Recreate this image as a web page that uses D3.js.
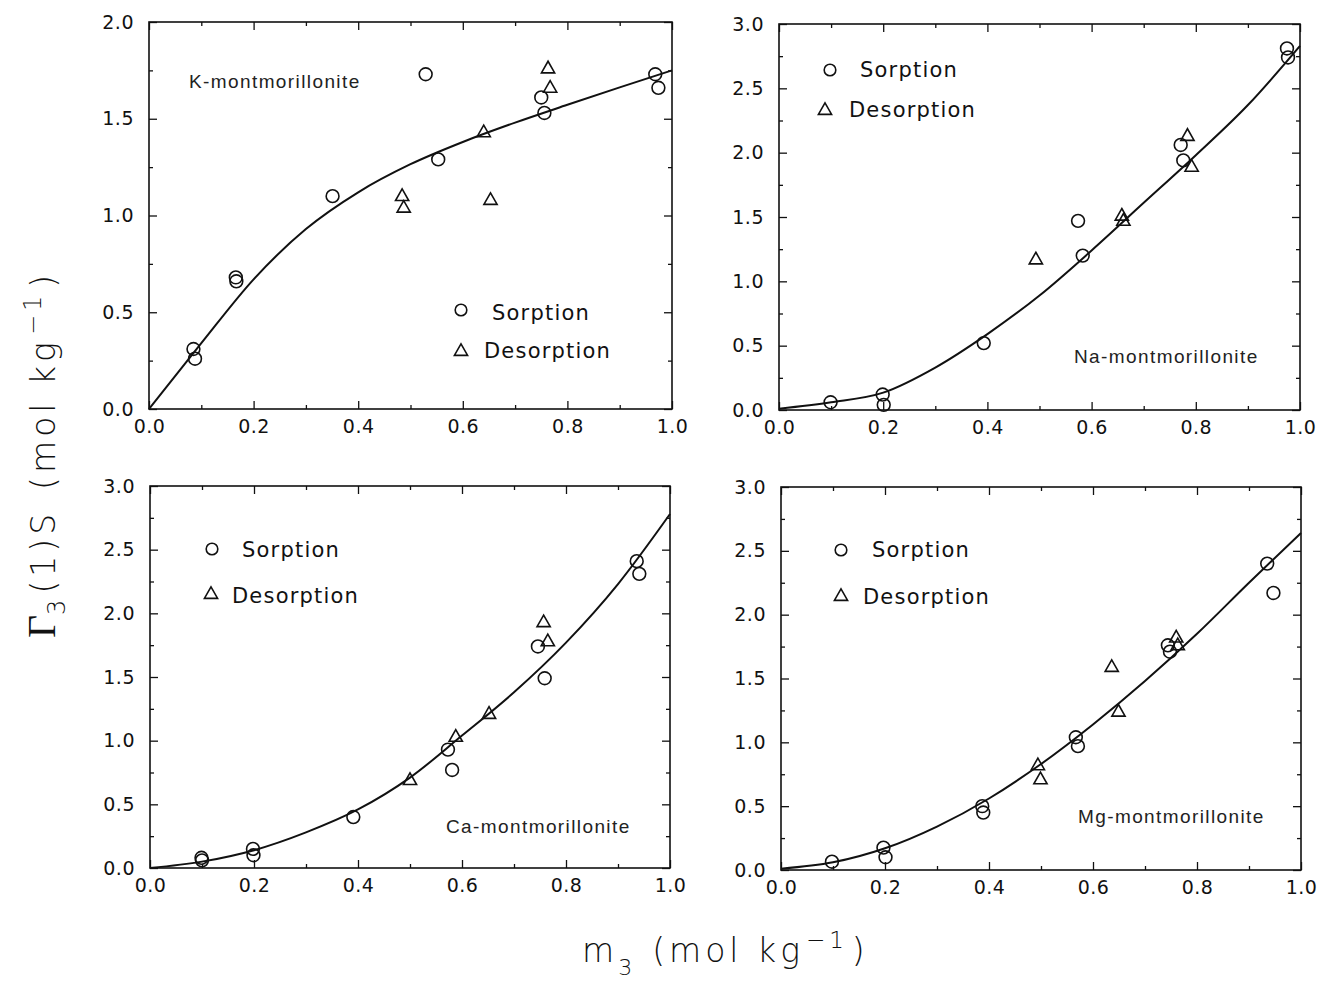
<!DOCTYPE html>
<html>
<head>
<meta charset="utf-8">
<script src="https://cdn.jsdelivr.net/npm/d3@7"></script>
<style>
  body { margin: 0; background: #fff; }
  svg { display: block; }
  .tick text { font-family: "DejaVu Sans", sans-serif; font-size: 19px; letter-spacing: 0.5px; fill: #111; }
  .tick line { stroke: #111; stroke-width: 1.3; }
  .legend { font-family: "DejaVu Sans", sans-serif; font-size: 21px; letter-spacing: 1.2px; fill: #111; }
  .clay { font-family: "Liberation Sans", Arial, sans-serif; font-size: 19px; letter-spacing: 1.4px; fill: #222; }
  .title { font-family: "DejaVu Sans", sans-serif; font-weight: 200; font-size: 33px; letter-spacing: 4px; fill: #111; }
</style>
</head>
<body>
<svg width="1317" height="981"></svg>
<script>
// values, [m3, Gamma] pairs
const kSorption = [[0.085, 0.31], [0.088, 0.26], [0.166, 0.68], [0.167, 0.66], [0.351, 1.10],
  [0.529, 1.73], [0.553, 1.29], [0.750, 1.61], [0.756, 1.53], [0.968, 1.73], [0.974, 1.66]];
const kDesorption = [[0.484, 1.10], [0.487, 1.04], [0.640, 1.43], [0.653, 1.08], [0.763, 1.76], [0.767, 1.66]];
const kFit = [[0, 0], [0.1, 0.34], [0.2, 0.67], [0.3, 0.93], [0.4, 1.12], [0.5, 1.265],
  [0.6, 1.38], [0.7, 1.48], [0.8, 1.572], [0.9, 1.662], [1.0, 1.75]];

const naSorption = [[0.099, 0.06], [0.199, 0.12], [0.201, 0.04], [0.393, 0.52], [0.574, 1.47],
  [0.583, 1.20], [0.771, 2.06], [0.776, 1.94], [0.975, 2.81], [0.977, 2.74]];
const naDesorption = [[0.493, 1.17], [0.658, 1.51], [0.661, 1.47], [0.784, 2.13], [0.792, 1.89]];
const naFit = [[0, 0.01], [0.1, 0.06], [0.2, 0.135], [0.3, 0.33], [0.4, 0.59], [0.5, 0.89],
  [0.6, 1.24], [0.7, 1.61], [0.8, 1.98], [0.9, 2.37], [1.0, 2.83]];

const caSorption = [[0.099, 0.08], [0.100, 0.06], [0.198, 0.15], [0.199, 0.10], [0.391, 0.40],
  [0.573, 0.93], [0.581, 0.77], [0.746, 1.74], [0.759, 1.49], [0.936, 2.41], [0.941, 2.31]];
const caDesorption = [[0.500, 0.69], [0.588, 1.03], [0.652, 1.21], [0.757, 1.93], [0.765, 1.78]];
const caFit = [[0, 0], [0.1, 0.05], [0.2, 0.14], [0.3, 0.28], [0.4, 0.46], [0.5, 0.71],
  [0.6, 1.04], [0.7, 1.38], [0.8, 1.77], [0.9, 2.23], [1.0, 2.78]];

const mgSorption = [[0.098, 0.065], [0.197, 0.175], [0.201, 0.10], [0.387, 0.50], [0.389, 0.45],
  [0.567, 1.04], [0.571, 0.97], [0.744, 1.76], [0.748, 1.71], [0.935, 2.40], [0.947, 2.17]];
const mgDesorption = [[0.494, 0.82], [0.499, 0.71], [0.636, 1.59], [0.649, 1.24], [0.760, 1.82], [0.763, 1.76]];
const mgFit = [[0, 0.01], [0.1, 0.06], [0.2, 0.17], [0.3, 0.34], [0.4, 0.56], [0.5, 0.83],
  [0.6, 1.14], [0.7, 1.48], [0.8, 1.85], [0.9, 2.25], [1.0, 2.64]];

const xTicks = [0, 0.2, 0.4, 0.6, 0.8, 1.0];
const xMinor = [0.1, 0.3, 0.5, 0.7, 0.9];
const yTicksK = [0, 0.5, 1.0, 1.5, 2.0];
const yMinorK = [0.25, 0.75, 1.25, 1.75];
const yTicks = [0, 0.5, 1.0, 1.5, 2.0, 2.5, 3.0];
const yMinor = [0.25, 0.75, 1.25, 1.75, 2.25, 2.75];

const clayNames = ["K-montmorillonite", "Na-montmorillonite", "Ca-montmorillonite", "Mg-montmorillonite"];
const legendNames = ["Sorption", "Desorption"];

// layout: frame boxes and where the labels sit in each panel
const panels = [
  { box: [149, 672, 22, 409], yMax: 2, yT: yTicksK, yM: yMinorK, sorp: kSorption, desorp: kDesorption, fit: kFit,
    name: clayNames[0], namePos: [189, 88],
    leg: { mark: [[461, 310], [461, 351]], text: [[492, 320], [484, 358]] } },
  { box: [779, 1300, 24, 410], yMax: 3, yT: yTicks, yM: yMinor, sorp: naSorption, desorp: naDesorption, fit: naFit,
    name: clayNames[1], namePos: [1074, 363],
    leg: { mark: [[830, 70], [825, 110]], text: [[860, 77], [849, 117]] } },
  { box: [150, 670, 486, 868], yMax: 3, yT: yTicks, yM: yMinor, sorp: caSorption, desorp: caDesorption, fit: caFit,
    name: clayNames[2], namePos: [446, 833],
    leg: { mark: [[212, 549], [211, 594]], text: [[242, 557], [232, 603]] } },
  { box: [781, 1301, 487, 870], yMax: 3, yT: yTicks, yM: yMinor, sorp: mgSorption, desorp: mgDesorption, fit: mgFit,
    name: clayNames[3], namePos: [1078, 823],
    leg: { mark: [[841, 550], [841, 596]], text: [[872, 557], [863, 604]] } }
];

const svg = d3.select("svg");
const fmt = d3.format(".1f");
const triangle = "M0,-7.2L6.6,4.4L-6.6,4.4Z";

panels.forEach(p => {
  let [x0, x1, y0, y1] = p.box;
  let x = d3.scaleLinear().domain([0, 1]).range([x0, x1]);
  let y = d3.scaleLinear().domain([0, p.yMax]).range([y1, y0]);
  let g = svg.append("g");

  // inward ticks on all four sides
  let major = [
    [d3.axisBottom(x).tickValues(xTicks).tickFormat(fmt), `translate(0,${y1})`],
    [d3.axisTop(x).tickValues(xTicks).tickFormat(""), `translate(0,${y0})`],
    [d3.axisLeft(y).tickValues(p.yT).tickFormat(fmt), `translate(${x0},0)`],
    [d3.axisRight(y).tickValues(p.yT).tickFormat(""), `translate(${x1},0)`]
  ];
  major.forEach(([axis, tr], i) => {
    g.append("g").attr("transform", tr)
      .call(axis.tickSizeInner(-8).tickSizeOuter(0).tickPadding(i === 2 ? 15 : 11))
      .call(a => a.select(".domain").remove());
  });
  let minor = [
    [d3.axisBottom(x).tickValues(xMinor), `translate(0,${y1})`],
    [d3.axisTop(x).tickValues(xMinor), `translate(0,${y0})`],
    [d3.axisLeft(y).tickValues(p.yM), `translate(${x0},0)`],
    [d3.axisRight(y).tickValues(p.yM), `translate(${x1},0)`]
  ];
  minor.forEach(([axis, tr]) => {
    g.append("g").attr("transform", tr)
      .call(axis.tickFormat("").tickSizeInner(-4).tickSizeOuter(0))
      .call(a => a.select(".domain").remove());
  });
  g.selectAll(".tick text").attr("fill", "#111");

  g.append("rect")
    .attr("x", x0).attr("y", y0)
    .attr("width", x1 - x0).attr("height", y1 - y0)
    .attr("fill", "none").attr("stroke", "#111").attr("stroke-width", 1.6);

  g.append("path")
    .datum(p.fit)
    .attr("fill", "none")
    .attr("stroke", "#111")
    .attr("stroke-width", 2)
    .attr("d", d3.line().x(d => x(d[0])).y(d => y(d[1])).curve(d3.curveMonotoneX));

  g.selectAll("circle.sorp")
    .data(p.sorp)
    .enter().append("circle")
    .attr("class", "sorp")
    .attr("cx", d => x(d[0]))
    .attr("cy", d => y(d[1]))
    .attr("r", 6.4)
    .attr("fill", "none")
    .attr("stroke", "#111")
    .attr("stroke-width", 1.6);

  g.selectAll("path.desorp")
    .data(p.desorp)
    .enter().append("path")
    .attr("class", "desorp")
    .attr("d", triangle)
    .attr("transform", d => `translate(${x(d[0])},${y(d[1])})`)
    .attr("fill", "none")
    .attr("stroke", "#111")
    .attr("stroke-width", 1.6);

  g.append("text")
    .attr("class", "clay")
    .attr("x", p.namePos[0])
    .attr("y", p.namePos[1])
    .text(p.name);

  // legend
  let [cm, tm] = p.leg.mark;
  g.append("circle")
    .attr("cx", cm[0]).attr("cy", cm[1]).attr("r", 5.8)
    .attr("fill", "none").attr("stroke", "#111").attr("stroke-width", 1.6);
  g.append("path")
    .attr("d", triangle)
    .attr("transform", `translate(${tm[0]},${tm[1]})`)
    .attr("fill", "none").attr("stroke", "#111").attr("stroke-width", 1.6);
  g.selectAll("text.legend")
    .data(legendNames)
    .enter().append("text")
    .attr("class", "legend")
    .attr("x", (d, i) => p.leg.text[i][0])
    .attr("y", (d, i) => p.leg.text[i][1])
    .text(d => d);
});

// axis titles
let xt = svg.append("text")
  .attr("class", "title")
  .attr("x", 582)
  .attr("y", 962);
xt.append("tspan").text("m");
xt.append("tspan").attr("dy", 13).attr("dx", 0).style("font-size", "22px").text("3");
xt.append("tspan").attr("dy", -13).attr("dx", 16).text("(mol kg");
xt.append("tspan").attr("dy", -14).attr("dx", 2).style("font-size", "23px").text("\u22121");
xt.append("tspan").attr("dy", 14).attr("dx", 4).text(")");

let yt = svg.append("text")
  .attr("class", "title")
  .attr("transform", "translate(55,638) rotate(-90)");
yt.append("tspan").style("font-family", "'Liberation Serif', serif").style("font-weight", 400)
  .style("font-size", "40px").style("letter-spacing", "0px").text("\u0393");
yt.append("tspan").attr("dy", 10).style("font-size", "24px").text("3");
yt.append("tspan").attr("dy", -10).attr("dx", 2).text("(1)S");
yt.append("tspan").attr("dx", 20).text("(mol kg");
yt.append("tspan").attr("dy", -14).attr("dx", 3).style("font-size", "24px").text("\u22121");
yt.append("tspan").attr("dy", 14).attr("dx", 4).text(")");
</script>
</body>
</html>
